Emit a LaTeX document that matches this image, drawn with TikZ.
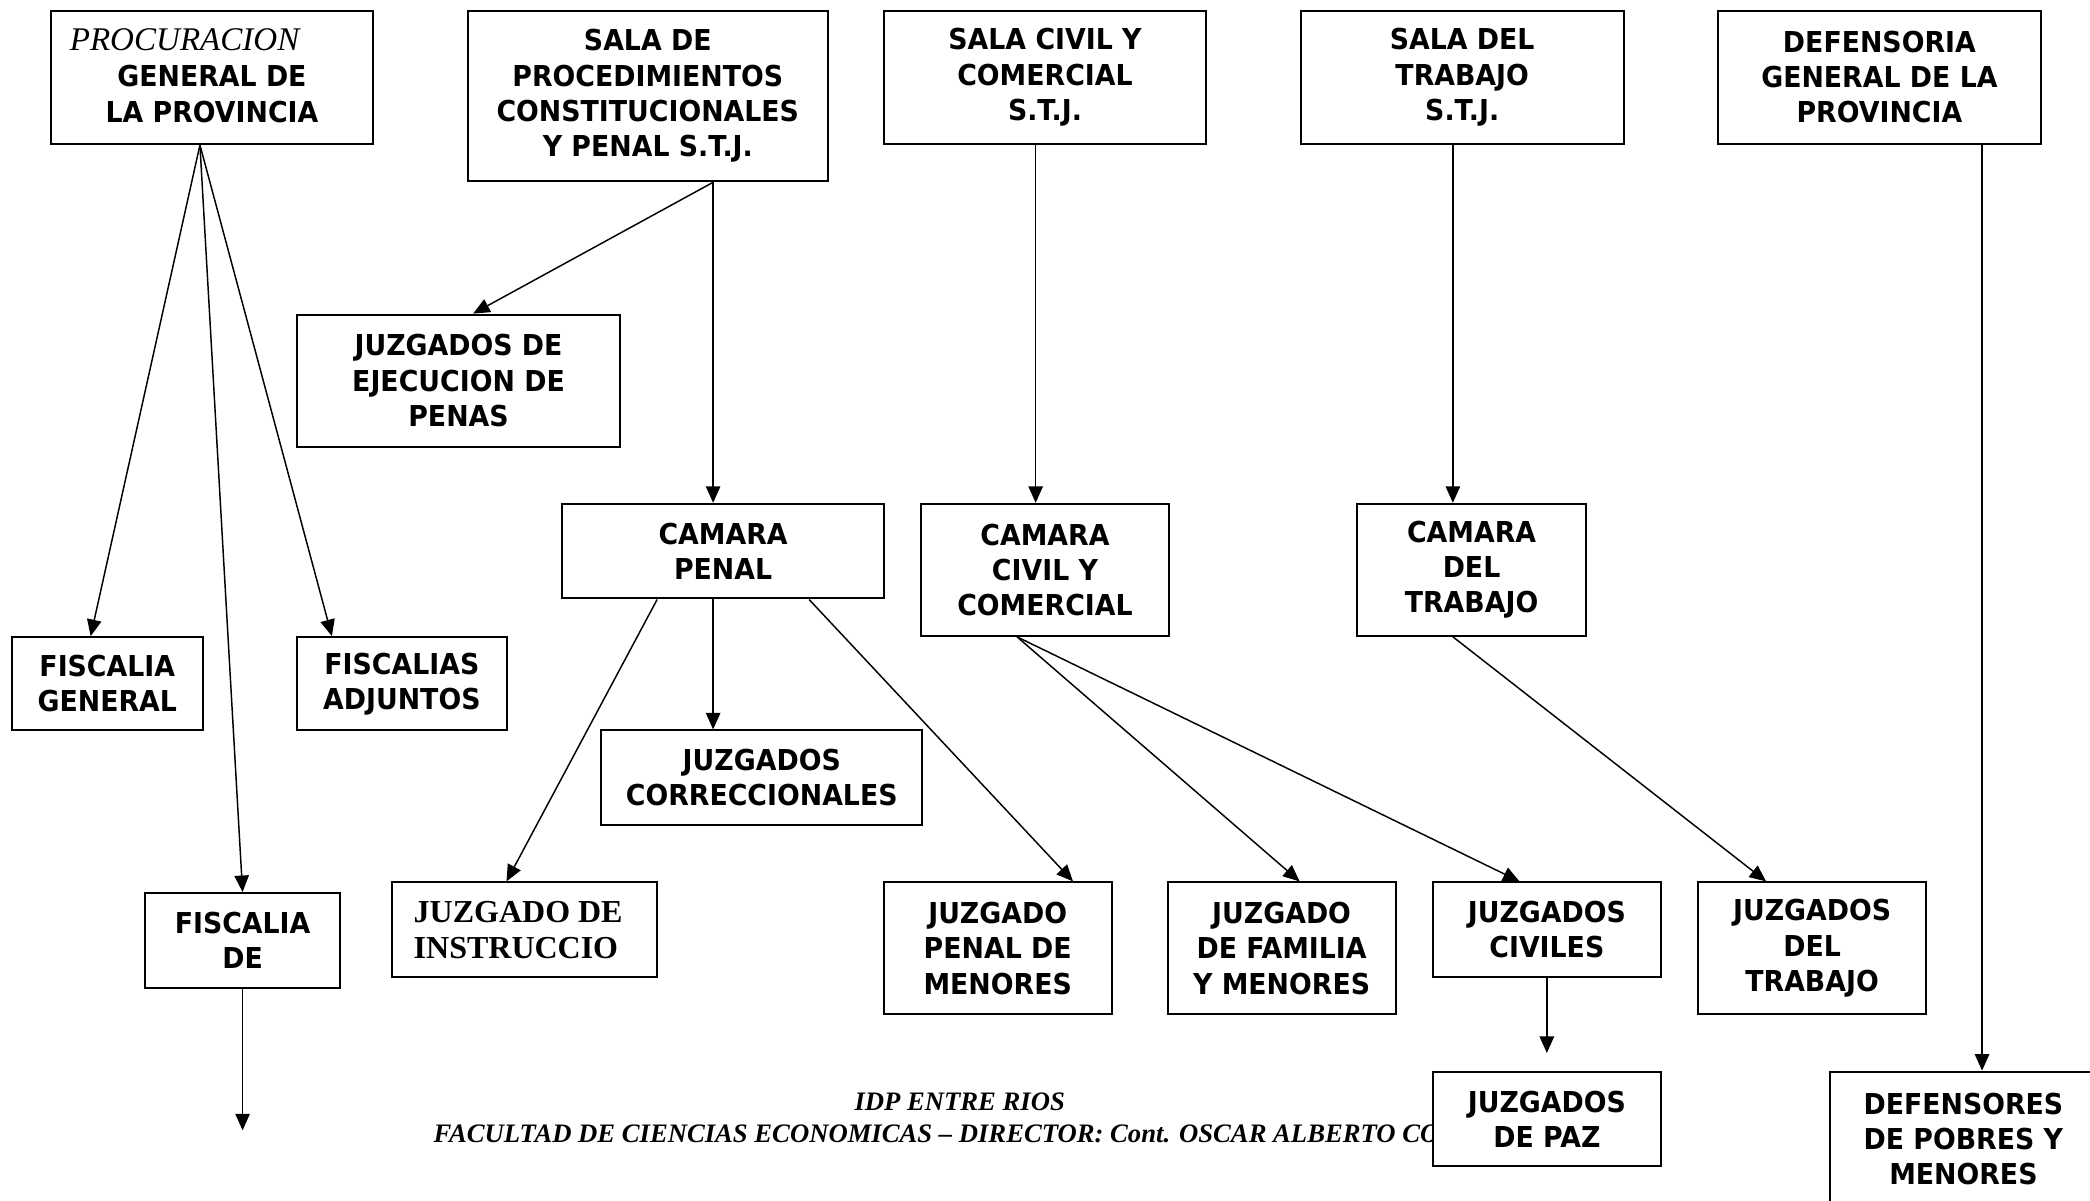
\documentclass[tikz,border=0pt]{standalone}
\usepackage{fontspec}
\setmainfont{DejaVu Sans}[FakeStretch=0.93]
\newfontfamily\tnr{Liberation Serif}
\usetikzlibrary{arrows.meta,calc}
\newcommand\mybox[6]{\node[box,minimum width={(#4-#2)*0.5pt},minimum height={(#5-#3)*0.5pt}] (#1) at ({(#2+#4)/2},{(#3+#5)/2}) {#6};}
\begin{document}
\begin{tikzpicture}[x=0.5pt,y=-0.5pt,
  box/.style={draw,line width=0.75pt,fill=white,inner sep=0pt,align=center,
    font=\bfseries\fontsize{10.8}{13.2}\selectfont},
  conn/.style={line width=0.55pt,-{Triangle[length=6.2pt,width=5.4pt]}},
  foot/.style={font=\tnr\bfseries\itshape\fontsize{10}{12}\selectfont,inner sep=0pt}]
\useasboundingbox (0,0) rectangle (1568,901);
\clip (0,0) rectangle (1568,901);
\fill[white] (0,0) rectangle (1568,901);

% footer (drawn first, partly covered by a box)
\node[foot,anchor=base] (foot1) at (720,833) {IDP ENTRE RIOS};
\node[foot,anchor=base west] (foot2) at (325,857) {FACULTAD DE CIENCIAS ECONOMICAS – DIRECTOR: Cont. OSCAR ALBERTO CO};

% top row
\mybox{proc}{38}{8}{280}{108}{}
\node[font=\tnr\itshape\fontsize{12.4}{14}\selectfont,anchor=base west,inner sep=0pt] (proct) at (52,38) {PROCURACION};
\node[align=center,inner sep=0pt,font=\bfseries\fontsize{10.8}{13.2}\selectfont] (procg) at (159,70.5) {GENERAL DE\\LA PROVINCIA};
\mybox{salap}{351}{8}{621}{136}{SALA DE\\PROCEDIMIENTOS\\CONSTITUCIONALES\\Y PENAL S.T.J.}
\mybox{salac}{663}{8}{905}{108}{SALA CIVIL Y\\COMERCIAL\\S.T.J.}
\mybox{salat}{976}{8}{1218}{108}{SALA DEL\\TRABAJO\\S.T.J.}
\mybox{defg}{1289}{8}{1531}{108}{DEFENSORIA\\GENERAL DE LA\\PROVINCIA}

% second level
\mybox{ejec}{223}{236}{465}{335}{JUZGADOS DE\\EJECUCION DE\\PENAS}
\mybox{campen}{422}{378}{663}{449}{CAMARA\\PENAL}
\mybox{camciv}{691}{378}{877}{477}{CAMARA\\CIVIL Y\\COMERCIAL}
\mybox{camtra}{1018}{378}{1190}{477}{CAMARA\\DEL\\TRABAJO}

\mybox{fisgen}{9}{478}{152}{548}{FISCALIA\\GENERAL}
\mybox{fisadj}{223}{478}{380}{548}{FISCALIAS\\ADJUNTOS}
\mybox{corr}{451}{548}{692}{619}{JUZGADOS\\CORRECCIONALES}

% lower row
\mybox{fisde}{109}{670}{255}{741}{FISCALIA\\DE}
\mybox{instr}{294}{662}{493}{733}{}
\node[font=\tnr\bfseries\fontsize{12}{13.5}\selectfont,align=left,anchor=west,inner sep=0pt] (instrt) at (310,697.5) {JUZGADO DE\\INSTRUCCIO};
\mybox{penmen}{663}{662}{834}{761}{JUZGADO\\PENAL DE\\MENORES}
\mybox{fam}{876}{662}{1047}{761}{JUZGADO\\DE FAMILIA\\Y MENORES}
\mybox{civ}{1075}{662}{1246}{733}{JUZGADOS\\CIVILES}
\mybox{trab}{1274}{662}{1445}{761}{JUZGADOS\\DEL\\TRABAJO}
\mybox{paz}{1075}{804}{1246}{875}{JUZGADOS\\DE PAZ}
\mybox{defs}{1373}{804}{1573}{905}{DEFENSORES\\DE POBRES Y\\MENORES}

% free ends
\coordinate (fisdeend) at (182,848);
\coordinate (civend) at (1160.5,790);

% connectors
\draw[conn] ($(proc.south)+(-9,0)$) -- ($(fisgen.north)+(-12.5,0)$);
\draw[conn] ($(proc.south)+(-9,0)$) -- ($(fisadj.north)+(-52.5,0)$);
\draw[conn] ($(proc.south)+(-9,0)$) -- (fisde.north);
\draw[conn] (fisde.south) -- (fisdeend);
\draw[conn] ($(salap.south)+(49,0)$) -- ($(ejec.north)+(11,0)$);
\draw[conn] ($(salap.south)+(49,0)$) -- ($(campen.north)+(-7.5,0)$);
\draw[conn] ($(salac.south)+(-7,0)$) -- ($(camciv.north)+(-7,0)$);
\draw[conn] ($(salat.south)+(-7,0)$) -- ($(camtra.north)+(-14,0)$);
\draw[conn] ($(defg.south)+(77,0)$) -- ($(defs.north)+(14,0)$);
\draw[conn] ($(campen.south)+(-49.5,0)$) -- ($(instr.north)+(-13.5,0)$);
\draw[conn] ($(campen.south)+(-7.5,0)$) -- ($(corr.north)+(-36.5,0)$);
\draw[conn] ($(campen.south)+(64.5,0)$) -- ($(penmen.north)+(56.5,0)$);
\draw[conn] ($(camciv.south)+(-21,0)$) -- ($(fam.north)+(13.5,0)$);
\draw[conn] ($(camciv.south)+(-21,0)$) -- ($(civ.north)+(-20.5,0)$);
\draw[conn] ($(camtra.south)+(-14,0)$) -- ($(trab.north)+(-34.5,0)$);
\draw[conn] (civ.south) -- (civend);
\end{tikzpicture}
\end{document}
